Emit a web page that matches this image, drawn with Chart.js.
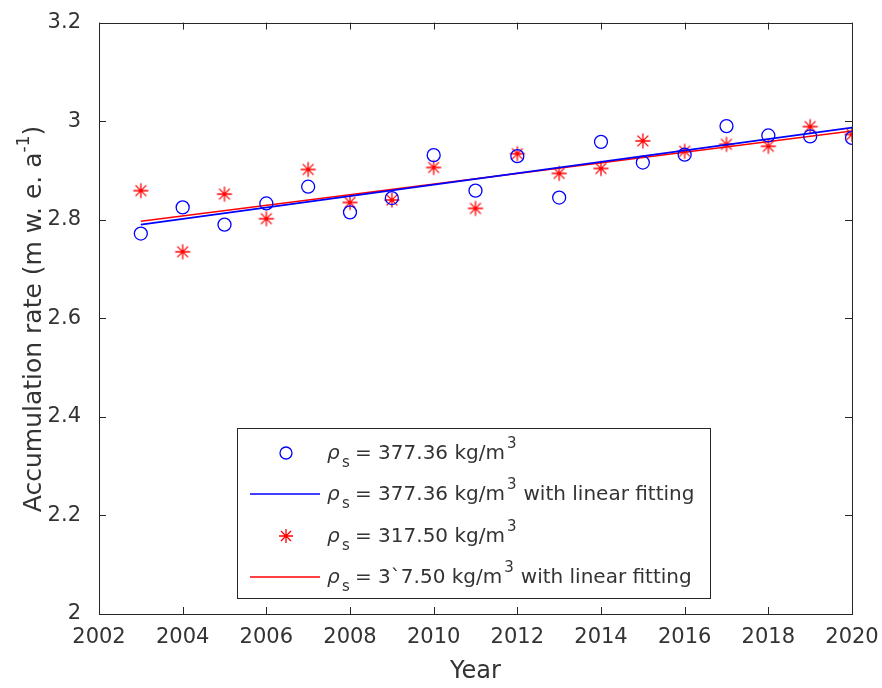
<!DOCTYPE html>
<html>
<head>
<meta charset="utf-8">
<script src="https://cdn.jsdelivr.net/npm/chart.js@4.4.0/dist/chart.umd.min.js"></script>
<style>
  body { margin: 0; background: #fff; }
  #wrap { width: 882px; height: 688px; }
</style>
</head>
<body>
<div id="wrap"><canvas id="chart" width="882" height="688"></canvas></div>
<script>
// data
const years = [2003, 2004, 2005, 2006, 2007, 2008, 2009, 2010, 2011, 2012,
               2013, 2014, 2015, 2016, 2017, 2018, 2019, 2020];
const rate377 = [2.772, 2.825, 2.790, 2.833, 2.867, 2.815, 2.844, 2.931, 2.859, 2.929,
                 2.845, 2.958, 2.916, 2.932, 2.990, 2.971, 2.969, 2.966];
const rate317 = [2.859, 2.735, 2.852, 2.802, 2.902, 2.835, 2.840, 2.906, 2.823, 2.934,
                 2.894, 2.904, 2.960, 2.939, 2.953, 2.949, 2.989, 2.973];
const fitYears = [2003, 2020];
const fit377 = [2.790, 2.987];
const fit317 = [2.797, 2.980];
const xTicks = [2002, 2004, 2006, 2008, 2010, 2012, 2014, 2016, 2018, 2020];
const yTicks = [2, 2.2, 2.4, 2.6, 2.8, 3, 3.2];

const legendLabels = [
  { value: '377.36', tail: '', kind: 'circle', color: '#0000ff' },
  { value: '377.36', tail: 'with linear fitting', kind: 'line', color: '#0000ff' },
  { value: '317.50', tail: '', kind: 'star', color: '#ff0000' },
  { value: '3`7.50', tail: 'with linear fitting', kind: 'line', color: '#ff0000' }
];

const FONT = '"DejaVu Sans", sans-serif';
const TEXT = '#333333';

function toXY(xs, ys) {
  return xs.map((x, i) => ({ x: x, y: ys[i] }));
}

function drawStar(ctx, x, y, r) {
  ctx.beginPath();
  ctx.moveTo(x, y - r); ctx.lineTo(x, y + r);
  ctx.moveTo(x - r, y); ctx.lineTo(x + r, y);
  const d = r * 0.72;
  ctx.moveTo(x - d, y - d); ctx.lineTo(x + d, y + d);
  ctx.moveTo(x - d, y + d); ctx.lineTo(x + d, y - d);
  ctx.stroke();
}

function drawRhoLabel(ctx, x, y, value, tail) {
  ctx.fillStyle = TEXT;
  ctx.textBaseline = 'alphabetic';
  ctx.textAlign = 'left';
  ctx.font = 'italic 20px ' + FONT;
  ctx.fillText('ρ', x, y);
  ctx.font = '15px ' + FONT;
  ctx.fillText('s', x + 15, y + 8);
  ctx.font = '20px ' + FONT;
  let s = '= ' + value + ' kg/m';
  let sx = x + 28;
  ctx.fillText(s, sx, y);
  sx += ctx.measureText(s).width;
  ctx.font = '15px ' + FONT;
  ctx.fillText('3', sx + 2, y - 11);
  sx += ctx.measureText('3').width + 9;
  if (tail) {
    ctx.font = '20px ' + FONT;
    ctx.fillText(tail, sx, y);
  }
}

const boxPlugin = {
  id: 'matlabBox',
  afterDraw(chart) {
    const ctx = chart.ctx;
    const a = chart.chartArea;
    const xs = chart.scales.x, ys = chart.scales.y;
    ctx.save();
    ctx.strokeStyle = '#262626';
    ctx.lineWidth = 1;
    ctx.strokeRect(Math.round(a.left) + 0.5, Math.round(a.top) + 0.5,
                   Math.round(a.right - a.left), Math.round(a.bottom - a.top));
    const tl = 7;
    ctx.beginPath();
    xTicks.forEach(v => {
      const px = Math.round(xs.getPixelForValue(v)) + 0.5;
      ctx.moveTo(px, a.bottom); ctx.lineTo(px, a.bottom - tl);
      ctx.moveTo(px, a.top); ctx.lineTo(px, a.top + tl);
    });
    yTicks.forEach(v => {
      const py = Math.round(ys.getPixelForValue(v)) + 0.5;
      ctx.moveTo(a.left, py); ctx.lineTo(a.left + tl, py);
      ctx.moveTo(a.right, py); ctx.lineTo(a.right - tl, py);
    });
    ctx.stroke();

    // axis titles
    ctx.fillStyle = TEXT;
    ctx.font = '24px ' + FONT;
    ctx.textAlign = 'center';
    ctx.textBaseline = 'alphabetic';
    ctx.fillText('Year', (a.left + a.right) / 2, 678);

    ctx.save();
    ctx.translate(41, 319);
    ctx.rotate(-Math.PI / 2);
    const main = 'Accumulation rate (m w. e. a';
    ctx.font = '25px ' + FONT;
    const w1 = ctx.measureText(main).width;
    ctx.font = '17px ' + FONT;
    const w2 = ctx.measureText('-1').width;
    ctx.font = '25px ' + FONT;
    const w3 = ctx.measureText(')').width;
    let sx = -(w1 + w2 + w3) / 2;
    ctx.textAlign = 'left';
    ctx.fillText(main, sx, 0);
    ctx.font = '17px ' + FONT;
    ctx.fillText('-1', sx + w1, -12);
    ctx.font = '25px ' + FONT;
    ctx.fillText(')', sx + w1 + w2, 0);
    ctx.restore();

    // legend
    const lx = 237.5, ly = 428.5, lw = 473, lh = 170;
    ctx.fillStyle = '#ffffff';
    ctx.fillRect(lx, ly, lw, lh);
    ctx.strokeStyle = '#262626';
    ctx.lineWidth = 1;
    ctx.strokeRect(lx, ly, lw, lh);
    const rows = [453, 494, 536, 577];
    legendLabels.forEach((item, i) => {
      const cy = rows[i];
      ctx.strokeStyle = item.color;
      ctx.lineWidth = 1.3;
      if (item.kind === 'circle') {
        ctx.beginPath();
        ctx.arc(286, cy, 6, 0, Math.PI * 2);
        ctx.stroke();
      } else if (item.kind === 'star') {
        drawStar(ctx, 286, cy, 7);
      } else {
        ctx.lineWidth = 1.5;
        ctx.beginPath();
        ctx.moveTo(250, cy); ctx.lineTo(320, cy);
        ctx.stroke();
      }
      drawRhoLabel(ctx, 327, cy + 6, item.value, item.tail);
    });
    ctx.restore();
  }
};

const starStyle = (function () {
  const c = document.createElement('canvas');
  c.width = 18; c.height = 18;
  const g = c.getContext('2d');
  g.strokeStyle = '#ff0000';
  g.lineWidth = 1.3;
  drawStar(g, 9, 9, 7.5);
  return c;
})();

new Chart(document.getElementById('chart'), {
  type: 'scatter',
  data: {
    datasets: [
      {
        label: 'rho 377.36',
        data: toXY(years, rate377),
        pointStyle: 'circle',
        pointRadius: 6.5,
        borderColor: '#0000ff',
        backgroundColor: 'rgba(0,0,0,0)',
        borderWidth: 1.3
      },
      {
        label: 'rho 377.36 fit',
        type: 'line',
        data: toXY(fitYears, fit377),
        borderColor: '#0000ff',
        borderWidth: 1.6,
        pointRadius: 0,
        fill: false
      },
      {
        label: 'rho 317.50',
        data: toXY(years, rate317),
        pointStyle: starStyle,
        pointRadius: 8,
        borderColor: '#ff0000',
        backgroundColor: 'rgba(0,0,0,0)'
      },
      {
        label: 'rho 317.50 fit',
        type: 'line',
        data: toXY(fitYears, fit317),
        borderColor: '#ff0000',
        borderWidth: 1.6,
        pointRadius: 0,
        fill: false
      }
    ]
  },
  options: {
    responsive: false,
    animation: false,
    layout: { padding: { top: 17, right: 30, left: 0, bottom: 0 } },
    plugins: {
      legend: { display: false },
      tooltip: { enabled: false }
    },
    scales: {
      x: {
        type: 'linear',
        min: 2002,
        max: 2020,
        afterBuildTicks(scale) { scale.ticks = xTicks.map(v => ({ value: v })); },
        afterFit(scale) { scale.height = 74; },
        grid: { display: false },
        border: { display: false },
        ticks: {
          color: TEXT,
          font: { family: FONT, size: 21 },
          padding: 3,
          maxRotation: 0,
          callback: v => String(v)
        }
      },
      y: {
        min: 2,
        max: 3.2,
        afterBuildTicks(scale) { scale.ticks = yTicks.map(v => ({ value: v })); },
        afterFit(scale) { scale.width = 99; },
        grid: { display: false },
        border: { display: false },
        ticks: {
          color: TEXT,
          font: { family: FONT, size: 21 },
          padding: 10,
          callback: v => String(Math.round(v * 10) / 10)
        }
      }
    }
  },
  plugins: [boxPlugin]
});
</script>
</body>
</html>
